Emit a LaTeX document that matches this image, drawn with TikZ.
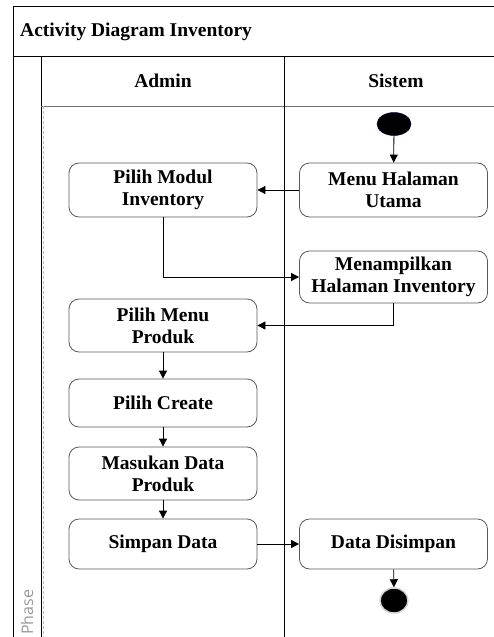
\documentclass[tikz,border=0pt]{standalone}
\usepackage{fontspec}
\setmainfont{Liberation Serif}
\newfontfamily\phasefont{Open Sans}
\usetikzlibrary{arrows.meta,shapes.geometric}
\begin{document}
\begin{tikzpicture}[x=1pt,y=-1pt,
  act/.style={draw=black!65, line width=0.8pt, rounded corners=10pt, minimum width=188pt, minimum height=#1, align=center, font=\fontsize{19.5}{21.7}\selectfont\bfseries, inner sep=0pt},
  act/.default=52pt,
  flow/.style={-{Triangle[length=8pt,width=8pt]}, black, line width=0.8pt},
  hdr/.style={font=\fontsize{19.5}{21.7}\selectfont\bfseries, inner sep=0pt},
  frame/.style={black, line width=0.9pt},
]
\useasboundingbox (0,0) rectangle (494,637);
\begin{scope}
\clip (0,0) rectangle (494,637);
% frame
\draw[frame] (13,700) -- (13,6.5) -- (520,6.5);
\draw[frame] (13,56) -- (520,56);
\draw[frame] (41,56) -- (41,700);
\draw[black!55, line width=0.9pt] (41,106) -- (520,106);
\draw[frame] (284,56) -- (284,700);
\draw[densely dashed, black!25, line width=0.6pt] (43.5,106) -- (43.5,700);
\node[hdr, anchor=west] (title) at (20,32) {Activity Diagram Inventory};
\node[hdr] (admin) at (163,81) {Admin};
\node[hdr] (sistem) at (396,81) {Sistem};
\node[rotate=90, anchor=west, text=black!40, font=\phasefont\fontsize{16}{18}\selectfont, inner sep=0pt] (phase) at (27,635) {Phase};
\end{scope}
% start
\node[ellipse, fill=black, draw=blue!30!black, line width=0.5pt, minimum width=34pt, minimum height=23pt, inner sep=0pt] (start) at (394,124) {};
% activities
\node[act=54pt] (menu) at (393.5,190) {Menu Halaman\\Utama};
\node[act=54pt] (modul) at (163,190) {Pilih Modul\\Inventory};
\node[act=52pt] (tampil) at (393.5,277) {Menampilkan\\Halaman Inventory};
\node[act=53pt] (produk) at (163,325.5) {Pilih Menu\\Produk};
\node[act=48pt] (create) at (163,403) {Pilih Create};
\node[act=53pt] (masukan) at (163,473.5) {Masukan Data\\Produk};
\node[act=50pt] (simpan) at (163,544) {Simpan Data};
\node[act=50pt] (disimpan) at (393.5,544) {Data Disimpan};
% end
\node[ellipse, fill=black, draw=black!18, line width=1.5pt, minimum width=28pt, minimum height=25pt, inner sep=0pt] (end) at (394,600.5) {};
% flows
\draw[flow] (start) -- (menu);
\draw[flow] (menu) -- (modul);
\draw[flow] (modul.south) |- (tampil.west);
\draw[flow] (tampil.south) |- (produk.east);
\draw[flow] (produk) -- (create);
\draw[flow] (create) -- (masukan);
\draw[flow] (masukan) -- (simpan);
\draw[flow] (simpan) -- (disimpan);
\draw[flow] (disimpan) -- (end);
\end{tikzpicture}
\end{document}
